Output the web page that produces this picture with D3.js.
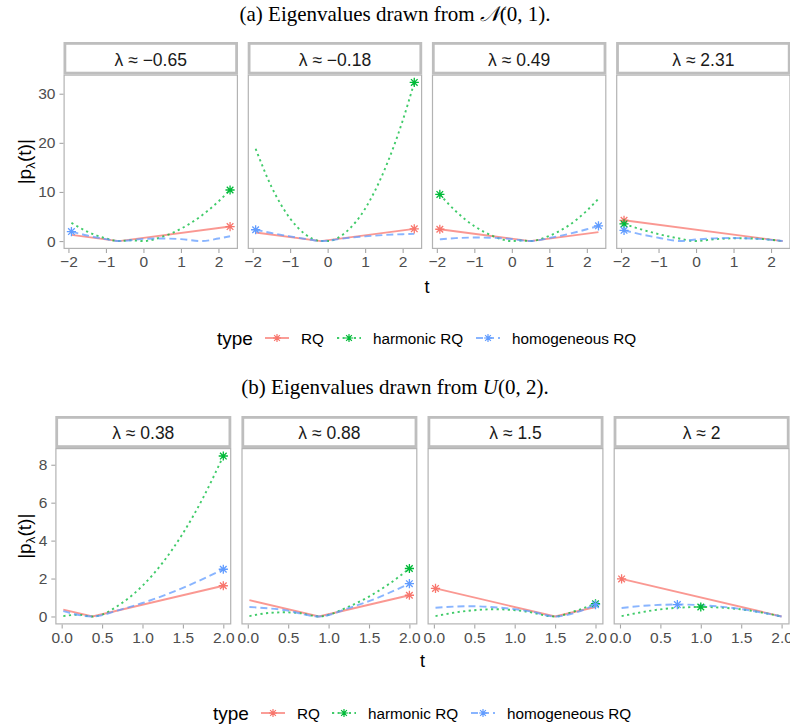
<!DOCTYPE html>
<html><head><meta charset="utf-8">
<script src="https://cdn.jsdelivr.net/npm/d3@7"></script>
<style>body{margin:0;background:#fff} svg{display:block}</style>
</head><body>
<svg id="chart" width="790" height="727"></svg>
<script>
// ---------- DATA ----------
const seriesNames = ["RQ", "harmonic RQ", "homogeneous RQ"];
const seriesColors = ["#F8766D", "#00BA38", "#619CFF"];

const topLabels = ["λ ≈ −0.65", "λ ≈ −0.18", "λ ≈ 0.49", "λ ≈ 2.31"];
const botLabels = ["λ ≈ 0.38", "λ ≈ 0.88", "λ ≈ 1.5", "λ ≈ 2"];

const topXTicks = [-2, -1, 0, 1, 2];
const topYTicks = [0, 10, 20, 30];
const botXTicks = [0, 0.5, 1, 1.5, 2];
const botYTicks = [0, 2, 4, 6, 8];

// (a) eigenvalues from N(0,1): [t, |p(t)|]
const topRQ = [
  [[-1.92, 1.27], [-0.65, 0], [2.31, 2.96]],
  [[-1.92, 1.74], [-0.18, 0], [2.31, 2.49]],
  [[-1.92, 2.41], [0.49, 0], [2.31, 1.82]],
  [[-1.92, 4.23], [2.31, 0]]
];
const topHarm = [
  [[-1.92, 3.71], [-1.5, 1.94], [-1.0, 0.53], [-0.65, 0], [-0.33, 0.16], [0, 0], [0.5, 0.87], [1.0, 2.51], [1.5, 4.9], [2.0, 8.06], [2.31, 10.4]],
  [[-1.92, 18.8], [-1.5, 11.1], [-1.0, 4.6], [-0.6, 1.4], [-0.18, 0], [-0.09, 0.05], [0, 0], [0.5, 1.9], [1.0, 6.6], [1.5, 14.2], [2.0, 24.5], [2.31, 32.3]],
  [[-1.92, 9.49], [-1.5, 6.12], [-1.0, 3.05], [-0.5, 1.01], [0, 0], [0.25, 0.12], [0.49, 0], [1.0, 1.05], [1.5, 3.1], [2.0, 6.19], [2.31, 8.62]],
  [[-1.92, 3.49], [-1.5, 2.46], [-1.0, 1.42], [-0.5, 0.6], [0, 0], [0.5, 0.39], [1.15, 0.57], [1.8, 0.39], [2.31, 0]]
];
const topHomog = [
  [[-1.92, 1.94], [-1.5, 1.14], [-1.0, 0.39], [-0.65, 0], [0, 0.44], [0.45, 0.53], [1.0, 0.4], [1.55, 0], [2.0, 0.52], [2.31, 0.99]],
  [[-1.92, 2.3], [-1.5, 1.65], [-1.0, 0.95], [-0.5, 0.34], [-0.18, 0], [0.5, 0.61], [1.0, 0.96], [1.5, 1.23], [2.0, 1.4], [2.31, 1.47]],
  [[-1.92, 0.34], [-1.5, 0.59], [-1.0, 0.72], [-0.5, 0.66], [0, 0.42], [0.49, 0], [1.0, 0.62], [1.5, 1.42], [2.0, 2.4], [2.31, 3.1]],
  [[-1.92, 2.19], [-1.5, 1.42], [-1.0, 0.68], [-0.4, 0], [0, 0.31], [0.5, 0.55], [0.96, 0.62], [1.5, 0.52], [2.0, 0.25], [2.31, 0]]
];
// marker per panel: [RQ, harmonic, homogeneous]
const topMarkers = [
  [[2.31, 2.96], [2.31, 10.4], [-1.92, 1.94]],
  [[2.31, 2.49], [2.31, 32.3], [-1.92, 2.3]],
  [[-1.92, 2.41], [-1.92, 9.49], [2.31, 3.1]],
  [[-1.92, 4.23], [-1.92, 3.49], [-1.92, 2.19]]
];

// (b) eigenvalues from U(0,2)
const botRQ = [
  [[0.02, 0.36], [0.38, 0], [2.0, 1.62]],
  [[0.02, 0.86], [0.88, 0], [2.0, 1.12]],
  [[0.02, 1.48], [1.5, 0], [2.0, 0.5]],
  [[0.02, 1.98], [2.0, 0]]
];
const botHarm = [
  [[0.02, 0.02], [0.2, 0.09], [0.38, 0], [0.75, 0.72], [1.0, 1.62], [1.25, 2.84], [1.5, 4.38], [1.75, 6.26], [2.0, 8.46]],
  [[0.02, 0.02], [0.25, 0.18], [0.44, 0.22], [0.65, 0.17], [0.88, 0], [1.25, 0.52], [1.5, 1.05], [1.75, 1.72], [2.0, 2.53]],
  [[0.02, 0.02], [0.4, 0.29], [0.75, 0.38], [1.1, 0.29], [1.5, 0], [1.75, 0.29], [2.0, 0.67]],
  [[0.02, 0.02], [0.5, 0.375], [1.0, 0.5], [1.5, 0.375], [2.0, 0]]
];
const botHomog = [
  [[0.02, 0.28], [0.38, 0], [0.75, 0.39], [1.0, 0.71], [1.5, 1.51], [2.0, 2.49]],
  [[0.02, 0.5], [0.45, 0.34], [0.88, 0], [1.25, 0.44], [1.5, 0.81], [2.0, 1.73]],
  [[0.02, 0.46], [0.43, 0.54], [0.8, 0.47], [1.2, 0.26], [1.5, 0], [2.0, 0.62]],
  [[0.02, 0.45], [0.35, 0.58], [0.71, 0.63], [1.1, 0.57], [1.5, 0.39], [2.0, 0]]
];
const botMarkers = [
  [[2.0, 1.62], [2.0, 8.46], [2.0, 2.49]],
  [[2.0, 1.12], [2.0, 2.53], [2.0, 1.73]],
  [[0.02, 1.48], [2.0, 0.67], [2.0, 0.62]],
  [[0.02, 1.98], [1.0, 0.5], [0.71, 0.63]]
];

// ---------- DRAWING ----------
const svg = d3.select("#chart");
const sansFont = "'Liberation Sans', Arial, Helvetica, sans-serif";
const serifFont = "'Liberation Serif', 'Times New Roman', serif";
const dashes = [null, "2.2,3.4", "7,4"];
const lineAlpha = 0.75;

function starPath(r) {
  const a = r * 0.72;
  return `M${-r},0H${r}M0,${-r}V${r}M${-a},${-a}L${a},${a}M${-a},${a}L${a},${-a}`;
}

function drawSection(o) {
  const g = svg.append("g");
  const curves = [o.rq, o.harm, o.homog];
  const allPts = curves.flat(2);
  const xExt = d3.extent(allPts, d => d[0]);
  const yMax = d3.max(allPts, d => d[1]);
  const xPad = (xExt[1] - xExt[0]) * 0.05;
  const yPad = yMax * 0.05;

  // title
  const tt = g.append("text")
    .attr("x", 395).attr("y", o.titleY)
    .attr("text-anchor", "middle")
    .attr("font-family", serifFont).attr("font-size", 21).attr("fill", "#000");
  tt.append("tspan").text(o.titleA);
  tt.append("tspan").attr("font-style", "italic").attr("font-family", o.titleSymFont).text(o.titleSym);
  tt.append("tspan").text(o.titleB);

  const y = d3.scaleLinear().domain([-yPad, yMax + yPad]).range([o.plotBottom, o.plotTop]);

  for (let i = 0; i < 4; i++) {
    const left = o.x0 + i * o.step;
    const x = d3.scaleLinear().domain([xExt[0] - xPad, xExt[1] + xPad]).range([left, left + o.pw]);
    const pg = g.append("g");

    // strip
    pg.append("rect")
      .attr("x", left + 1.4).attr("y", o.stripTop + 1.4)
      .attr("width", o.pw - 2.8).attr("height", o.plotTop - o.stripTop - 2.8)
      .attr("fill", "#fff").attr("stroke", "#BEBEBE").attr("stroke-width", 2.8);
    pg.append("text")
      .attr("x", left + o.pw / 2).attr("y", (o.stripTop + o.plotTop) / 2 + 1)
      .attr("dy", "0.36em").attr("text-anchor", "middle")
      .attr("font-family", sansFont).attr("font-size", 17.5).attr("fill", "#1a1a1a")
      .text(o.labels[i]);

    // panel border
    pg.append("rect")
      .attr("x", left + 0.6).attr("y", o.plotTop + 0.6)
      .attr("width", o.pw - 1.2).attr("height", o.plotBottom - o.plotTop - 1.2)
      .attr("fill", "#fff").attr("stroke", "#B3B3B3").attr("stroke-width", 1.2);

    // lines
    curves.forEach((series, s) => {
      const gen = d3.line().x(d => x(d[0])).y(d => y(d[1]))
        .curve(s === 0 ? d3.curveLinear : d3.curveMonotoneX);
      pg.append("path")
        .attr("d", gen(series[i]))
        .attr("fill", "none")
        .attr("stroke", seriesColors[s])
        .attr("stroke-width", 1.9)
        .attr("stroke-opacity", lineAlpha)
        .attr("stroke-dasharray", dashes[s]);
    });
    // markers
    o.markers[i].forEach((m, s) => {
      pg.append("path")
        .attr("d", starPath(4.6))
        .attr("transform", `translate(${x(m[0])},${y(m[1])})`)
        .attr("fill", "none").attr("stroke", seriesColors[s]).attr("stroke-width", 1.3);
    });

    // x axis
    const xa = pg.append("g").attr("transform", `translate(0,${o.plotBottom})`)
      .call(d3.axisBottom(x).tickValues(o.xTicks).tickSize(4).tickPadding(3).tickFormat(o.xFmt));
    xa.select(".domain").remove();
    xa.selectAll("line").attr("stroke", "#A6A6A6").attr("stroke-width", 1.1);
    xa.selectAll("text").attr("fill", "#4D4D4D").attr("font-size", 15.5).attr("font-family", sansFont);

    if (i === 0) {
      const ya = pg.append("g").attr("transform", `translate(${left},0)`)
        .call(d3.axisLeft(y).tickValues(o.yTicks).tickSize(4).tickPadding(4));
      ya.select(".domain").remove();
      ya.selectAll("line").attr("stroke", "#A6A6A6").attr("stroke-width", 1.1);
      ya.selectAll("text").attr("fill", "#4D4D4D").attr("font-size", 15.5).attr("font-family", sansFont);
    }
  }

  // y title
  const yt = g.append("text")
    .attr("transform", `translate(${o.yTitleX},${(o.plotTop + o.plotBottom) / 2}) rotate(-90)`)
    .attr("text-anchor", "middle")
    .attr("font-family", sansFont).attr("font-size", 19).attr("fill", "#000");
  yt.append("tspan").text("|p");
  yt.append("tspan").attr("font-size", 13.5).attr("dy", 4).text("λ");
  yt.append("tspan").attr("dy", -4).text("(t)|");

  // x title
  const xc = o.x0 + (3 * o.step + o.pw) / 2;
  g.append("text").attr("x", xc).attr("y", o.xTitleY)
    .attr("text-anchor", "middle")
    .attr("font-family", sansFont).attr("font-size", 18).attr("fill", "#000").text("t");

  // legend
  const lg = g.append("g").attr("transform", `translate(0,${o.legendY})`);
  lg.append("text").attr("x", o.legTypeX).attr("y", 0).attr("dy", "0.36em")
    .attr("font-family", sansFont).attr("font-size", 19).attr("fill", "#000").text("type");
  seriesNames.forEach((nm, s) => {
    const kx = o.legKeyX[s];
    lg.append("line").attr("x1", kx).attr("x2", kx + 24).attr("y1", 0).attr("y2", 0)
      .attr("stroke", seriesColors[s]).attr("stroke-width", 1.9)
      .attr("stroke-opacity", lineAlpha).attr("stroke-dasharray", dashes[s]);
    lg.append("path").attr("d", starPath(4)).attr("transform", `translate(${kx + 12},0)`)
      .attr("fill", "none").attr("stroke", seriesColors[s]).attr("stroke-width", 1.2);
    lg.append("text").attr("x", kx + 36).attr("y", 0).attr("dy", "0.36em")
      .attr("font-family", sansFont).attr("font-size", 15.3).attr("fill", "#000").text(nm);
  });
}

drawSection({
  titleA: "(a) Eigenvalues drawn from ", titleSym: "𝒩", titleSymFont: "'DejaVu Serif', serif", titleB: "(0, 1).",
  titleY: 21,
  labels: topLabels, rq: topRQ, harm: topHarm, homog: topHomog, markers: topMarkers,
  xTicks: topXTicks, yTicks: topYTicks, xFmt: d3.format("d"),
  x0: 63.5, step: 184.2, pw: 174.5,
  stripTop: 42, plotTop: 74.5, plotBottom: 249,
  yTitleX: 31, xTitleY: 293,
  legendY: 338, legTypeX: 217, legKeyX: [265, 337, 476]
});

drawSection({
  titleA: "(b) Eigenvalues drawn from ", titleSym: "U", titleSymFont: serifFont, titleB: "(0, 2).",
  titleY: 394,
  labels: botLabels, rq: botRQ, harm: botHarm, homog: botHomog, markers: botMarkers,
  xTicks: botXTicks, yTicks: botYTicks, xFmt: d3.format(".1f"),
  x0: 55.3, step: 186.1, pw: 176,
  stripTop: 416, plotTop: 448, plotBottom: 624.5,
  yTitleX: 31, xTitleY: 667,
  legendY: 713, legTypeX: 213, legKeyX: [261, 332, 471]
});
</script>
</body></html>
